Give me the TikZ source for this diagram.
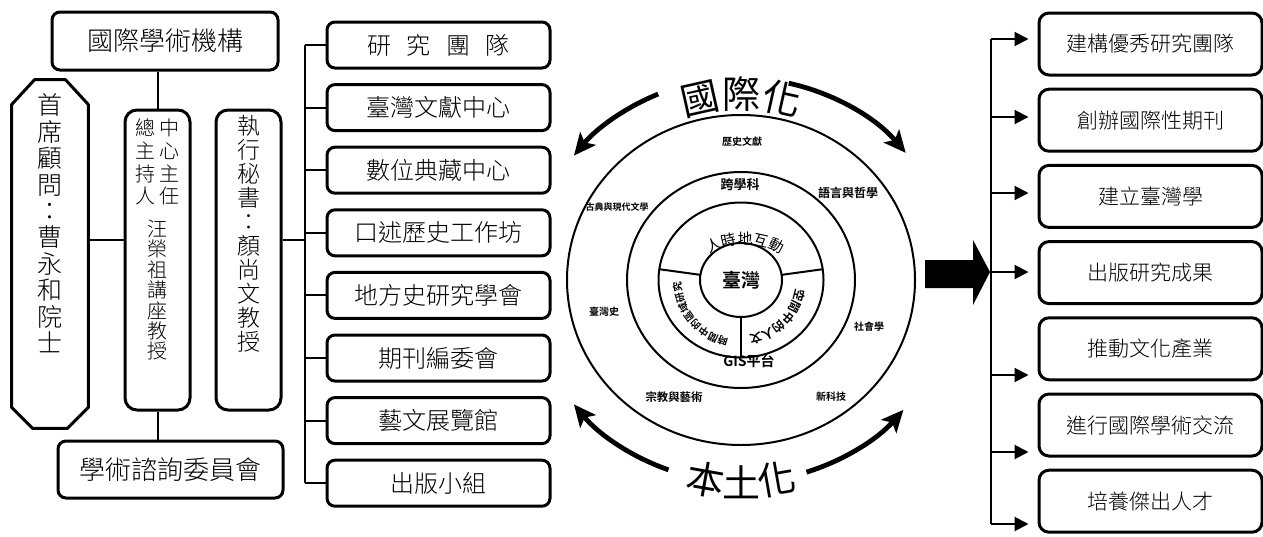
\documentclass[tikz,border=0pt]{standalone}
\usepackage{fontspec}
\setmainfont{Noto Sans CJK TC}[UprightFont=* Light, BoldFont=* Bold]
\newfontfamily\cjkheavy{Noto Sans CJK TC}[UprightFont=* Bold]
\newfontfamily\cjkmid{Noto Sans CJK TC}
\usetikzlibrary{positioning, arrows.meta, decorations.text, shapes.geometric}

\tikzset{
  orgbox/.style={draw, line width=1.5pt, rounded corners=4pt, inner sep=0pt,
    minimum width=111.5pt, minimum height=23pt, font=\fontsize{12}{12}\selectfont},
  headbox/.style={orgbox, minimum width=113pt, minimum height=29pt, font=\fontsize{13}{13}\selectfont},
  tallbox/.style={draw, line width=1.5pt, rounded corners=6pt, minimum width=32.5pt, minimum height=150pt},
  goalbox/.style={orgbox, rounded corners=5pt, minimum height=31pt, font=\fontsize{10.5}{10.5}\selectfont},
  vtext/.style={align=center, inner sep=0pt},
  link/.style={line width=1pt},
  goalarrow/.style={line width=1pt, shorten >=4.5pt, -{Triangle[length=7pt,width=7pt]}},
  ring/.style={line width=1pt},
  sweep/.style={line width=2.4pt, -{Stealth[length=11pt,width=10pt,inset=2.5pt]}},
  field/.style={font=\cjkheavy\fontsize{5}{5}\selectfont, inner sep=0pt},
}

\begin{document}
\begin{tikzpicture}[x=0.5pt, y=0.5pt]
  \useasboundingbox (0,0) rectangle (1263,-536);

  % Organisation
  \node[headbox] (intl) at (165,-41) {國際學術機構};
  \node[minimum width=38pt, minimum height=174pt, inner sep=0pt] (chief) at (50,-254) {};
  \node[tallbox] (pi) at (157.5,-260) {};
  \node[tallbox, right=11.5pt of pi] (exec) {};
  \node[headbox, minimum width=112.5pt, minimum height=28.5pt] (advise) at (170.5,-469.5) {學術諮詢委員會};
  \draw[line width=1.5pt, line join=round] ([yshift=-12.5pt]chief.north west) -- ([xshift=11.5pt]chief.north west)
    -- ([xshift=-11.5pt]chief.north east) -- ([yshift=-12.5pt]chief.north east)
    -- ([yshift=10.5pt]chief.south east) -- ([xshift=-10.5pt]chief.south east)
    -- ([xshift=10.5pt]chief.south west) -- ([yshift=10.5pt]chief.south west) -- cycle;

  \node[vtext, font=\fontsize{12.5}{13.2}\selectfont, below=7pt of chief.north] (chieftxt) {首\\席\\顧\\問\\：\\曹\\永\\和\\院\\士};
  \node[vtext, font=\fontsize{10}{10.2}\selectfont, below=5pt of pi.north] (pitxt)
    {\begin{tabular}{@{}c@{\hspace{2pt}}c@{}}總&中\\主&心\\持&主\\人&任\end{tabular}\\[4pt]汪\\榮\\祖\\講\\座\\教\\授};
  \node[vtext, font=\fontsize{11.5}{12}\selectfont, below=3pt of exec.north] (exectxt) {執\\行\\秘\\書\\：\\顏\\尚\\文\\教\\授};

  % Units
  \node[orgbox] (team) at (438.5,-45) {研\hspace{0.65em}究\hspace{0.65em}團\hspace{0.65em}隊};
  \node[orgbox, below=6.8pt of team] (archive) {臺灣文獻中心};
  \node[orgbox, below=6.8pt of archive] (digital) {數位典藏中心};
  \node[orgbox, below=6.8pt of digital] (oral) {口述歷史工作坊};
  \node[orgbox, below=6.8pt of oral] (local) {地方史研究學會};
  \node[orgbox, below=6.8pt of local] (journal) {期刊編委會};
  \node[orgbox, below=6.8pt of journal] (gallery) {藝文展覽館};
  \node[orgbox, below=6.8pt of gallery] (press) {出版小組};

  % Links
  \coordinate (trunk) at (305,0);
  \coordinate (cj) at ([yshift=10pt]pi.west);
  \coordinate (ej) at ([yshift=10pt]exec.east);
  \draw[link] (pi.north) -- (pi.north |- intl.south);
  \draw[link] (pi.south) -- (pi.south |- advise.north);
  \draw[link] (cj) -- (cj -| chief.east);
  \draw[link] (ej) -- (ej -| trunk);
  \draw[link] (team.west -| trunk) -- (press.west -| trunk);
  \draw[link] (team.west) -- (team.west -| trunk);
  \draw[link] (archive.west) -- (archive.west -| trunk);
  \draw[link] (digital.west) -- (digital.west -| trunk);
  \draw[link] (oral.west) -- (oral.west -| trunk);
  \draw[link] (local.west) -- (local.west -| trunk);
  \draw[link] (journal.west) -- (journal.west -| trunk);
  \draw[link] (gallery.west) -- (gallery.west -| trunk);
  \draw[link] (press.west) -- (press.west -| trunk);

  % Rings
  \coordinate (c) at (741,-280);
  \coordinate (arc) at (745,-312);
  \draw[ring] (c) ellipse [x radius=174, y radius=165];
  \draw[ring] (c) ellipse [x radius=114, y radius=108];
  \draw[ring] (c) ellipse [x radius=82.5, y radius=77.5];
  \node[draw, ring, ellipse, minimum width=41pt, minimum height=37pt, inner sep=0pt,
    font=\cjkheavy\fontsize{9.5}{9.5}\selectfont] (taiwan) at (c) {臺灣};
  \draw[ring] ([shift={(172:41 and 37)}]c) -- ([shift={(172:82.5 and 77.5)}]c);
  \draw[ring] ([shift={(8:41 and 37)}]c) -- ([shift={(8:82.5 and 77.5)}]c);
  \draw[ring] ([shift={(270:41 and 37)}]c) -- ([shift={(270:82.5 and 77.5)}]c);

  \node[field] (history) at (742,-142) {歷史文獻};
  \node[field, font=\cjkheavy\fontsize{6.5}{6.5}\selectfont] (cross) at (740,-185) {跨學科};
  \node[field, font=\cjkheavy\fontsize{6}{6}\selectfont] (lang) at (848,-193) {語言與哲學};
  \node[field, font=\cjkheavy\fontsize{4.5}{4.5}\selectfont] (lit) at (617,-207) {古典與現代文學};
  \node[field] (twhist) at (604,-312) {臺灣史};
  \node[field] (society) at (869,-327) {社會學};
  \node[field, font=\cjkheavy\fontsize{5.7}{5.7}\selectfont] (religion) at (674,-397) {宗教與藝術};
  \node[field] (tech) at (831,-397) {新科技};
  \node[field, font=\cjkheavy\fontsize{7}{7}\selectfont] (gis) at (749,-361) {GIS平台};

  \path[decorate, decoration={text along path, text align=center,
    text={|\cjkmid\fontsize{7.5}{7.5}\selectfont|人時地互動}}]
    ([shift={(125:68)}]arc) arc[start angle=125, end angle=55, radius=68];
  \path[decorate, decoration={text along path, text align=center,
    text={|\cjkheavy\fontsize{5}{5}\selectfont|時間中的區域研究}}]
    ([shift={(266:60)}]c) arc[start angle=266, end angle=174, radius=60];
  \path[decorate, decoration={text along path, text align=center,
    text={|\cjkheavy\fontsize{6}{6}\selectfont|空間中的人文}}]
    ([shift={(356:56)}]c) arc[start angle=356, end angle=274, radius=56];

  % Directions
  \path[decorate, decoration={text along path, text align=center,
    text={|\cjkmid\fontsize{19}{19}\selectfont|國際化}}]
    ([shift={(125:172)}]c) arc[start angle=125, end angle=55, radius=172];
  \path[decorate, decoration={text along path, text align=center,
    text={|\cjkmid\fontsize{19}{19}\selectfont|本土化}}]
    ([shift={(235:217)}]c) arc[start angle=235, end angle=305, radius=217];
  \draw[sweep] ([shift={(113:212 and 202)}]c) arc[start angle=113, end angle=142, x radius=212, y radius=202];
  \draw[sweep] ([shift={(77:212 and 202)}]c) arc[start angle=77, end angle=39, x radius=212, y radius=202];
  \draw[sweep] ([shift={(250:212 and 202)}]c) arc[start angle=250, end angle=218, x radius=212, y radius=202];
  \draw[sweep] ([shift={(288:212 and 202)}]c) arc[start angle=288, end angle=320, x radius=212, y radius=202];

  \fill (925,-260) -- (973,-260) -- (973,-240) -- (990,-272) -- (973,-305) -- (973,-288) -- (925,-288) -- cycle;

  % Goals
  \node[goalbox] (elite) at (1150.5,-44) {建構優秀研究團隊};
  \node[goalbox, below=5.6pt of elite] (periodical) {創辦國際性期刊};
  \node[goalbox, below=5.6pt of periodical] (twstudies) {建立臺灣學};
  \node[goalbox, below=5.6pt of twstudies] (results) {出版研究成果};
  \node[goalbox, below=5.6pt of results] (industry) {推動文化產業};
  \node[goalbox, below=5.6pt of industry] (exchange) {進行國際學術交流};
  \node[goalbox, below=5.6pt of exchange] (talent) {培養傑出人才};

  \coordinate (g1) at (991,-39);
  \coordinate (g2) at (991,-117);
  \coordinate (g3) at (991,-193);
  \coordinate (g4) at (991,-272);
  \coordinate (g5) at (991,-375);
  \coordinate (g6) at (991,-452);
  \coordinate (g7) at (991,-524);
  \draw[link] (g1) -- (g7);
  \draw[goalarrow] (g1) -- (g1 -| elite.west);
  \draw[goalarrow] (g2) -- (g2 -| periodical.west);
  \draw[goalarrow] (g3) -- (g3 -| twstudies.west);
  \draw[goalarrow] (g4) -- (g4 -| results.west);
  \draw[goalarrow] (g5) -- (g5 -| industry.west);
  \draw[goalarrow] (g6) -- (g6 -| exchange.west);
  \draw[goalarrow] (g7) -- (g7 -| talent.west);
\end{tikzpicture}
\end{document}
